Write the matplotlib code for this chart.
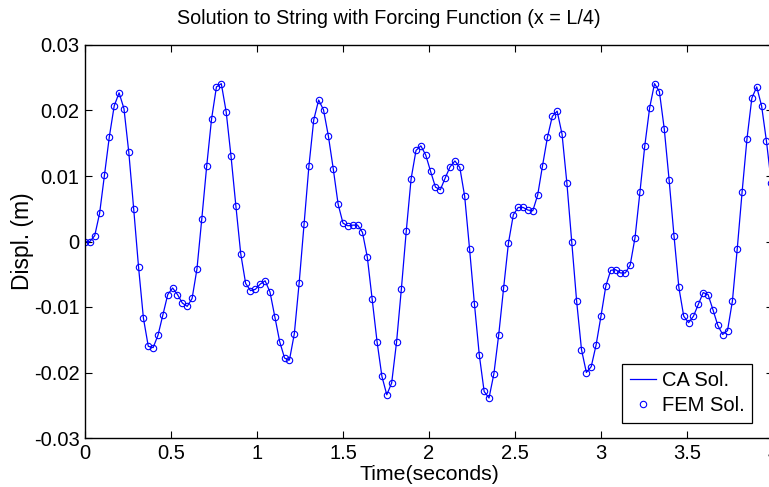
import numpy as np
import matplotlib
matplotlib.use("Agg")
from matplotlib import pyplot as plt

# time step of the samples (seconds)
dt = 0.0283

# displacement at x = L/4 (metres)
displ = [
    0.0, 0.0, 0.0009, 0.0043, 0.0102, 0.0160, 0.0207, 0.0227, 0.0203, 0.0136,
    0.0050, -0.0039, -0.0117, -0.0160, -0.0162, -0.0143, -0.0112, -0.0081, -0.0071, -0.0081,
    -0.0094, -0.0099, -0.0087, -0.0042, 0.0035, 0.0115, 0.0187, 0.0236, 0.0241, 0.0198,
    0.0130, 0.0054, -0.0019, -0.0064, -0.0075, -0.0073, -0.0065, -0.0060, -0.0077, -0.0115,
    -0.0153, -0.0178, -0.0181, -0.0141, -0.0063, 0.0027, 0.0115, 0.0186, 0.0216, 0.0201,
    0.0161, 0.0111, 0.0057, 0.0028, 0.0024, 0.0025, 0.0025, 0.0014, -0.0024, -0.0088,
    -0.0153, -0.0206, -0.0234, -0.0216, -0.0154, -0.0072, 0.0016, 0.0096, 0.0139, 0.0146,
    0.0132, 0.0107, 0.0083, 0.0079, 0.0097, 0.0114, 0.0123, 0.0113, 0.0069, -0.0011,
    -0.0095, -0.0173, -0.0229, -0.0239, -0.0202, -0.0142, -0.0071, -0.0002, 0.0041, 0.0052,
    0.0052, 0.0048, 0.0047, 0.0071, 0.0116, 0.0159, 0.0191, 0.0199, 0.0164, 0.0089,
    -0.0001, -0.0091, -0.0165, -0.0200, -0.0191, -0.0158, -0.0114, -0.0068, -0.0044, -0.0043,
    -0.0048, -0.0048, -0.0036, 0.0006, 0.0075, 0.0146, 0.0204, 0.0241, 0.0229, 0.0172,
    0.0094, 0.0009, -0.0070, -0.0114, -0.0124, -0.0114, -0.0096, -0.0078, -0.0081, -0.0104,
    -0.0128, -0.0142, -0.0136, -0.0091, -0.0011, 0.0076, 0.0157, 0.0219, 0.0236, 0.0207,
    0.0153, 0.0089,
]

xticks = [0, 0.5, 1, 1.5, 2, 2.5, 3, 3.5, 4]
xticklabels = ["0", "0.5", "1", "1.5", "2", "2.5", "3", "3.5", "4"]
yticks = [-0.03, -0.02, -0.01, 0, 0.01, 0.02, 0.03]
yticklabels = ["-0.03", "-0.02", "-0.01", "0", "0.01", "0.02", "0.03"]

t = np.arange(len(displ)) * dt

plt.rcParams['font.family'] = ['Liberation Sans', 'DejaVu Sans']

fig = plt.figure(figsize=(7.69, 4.87), dpi=100)
ax = fig.add_axes([85 / 769, 49 / 487, 688 / 769, 393 / 487])

ax.plot(t, displ, color="#0000ff", lw=0.9, label="CA Sol.")
ax.plot(t, displ, ls="none", marker="o", ms=4.6, mfc="none", mec="#0000ff",
        mew=0.8, label="FEM Sol.")

ax.set_xlim(0, 4)
ax.set_ylim(-0.03, 0.03)
ax.set_xticks(xticks)
ax.set_xticklabels(xticklabels)
ax.set_yticks(yticks)
ax.set_yticklabels(yticklabels)
ax.tick_params(direction="in", top=True, right=True, length=5, width=0.8,
               labelsize=14.5, pad=4)
for sp in ax.spines.values():
    sp.set_linewidth(1.0)

ax.set_xlabel("Time(seconds)", fontsize=15.3, labelpad=2)
ax.set_ylabel("Displ. (m)", fontsize=16.5, labelpad=0)
ax.set_title("Solution to String with Forcing Function (x = L/4)",
             fontsize=14.2, x=0.442, pad=15)

leg = ax.legend(loc="lower right", bbox_to_anchor=(0.97, 0.038), fontsize=14.5,
                fancybox=False, framealpha=1, edgecolor="black",
                handlelength=1.3, handletextpad=0.3, borderpad=0.38,
                labelspacing=0.3, borderaxespad=0)
leg.get_frame().set_linewidth(0.9)

fig.savefig("out.png", dpi=100)
